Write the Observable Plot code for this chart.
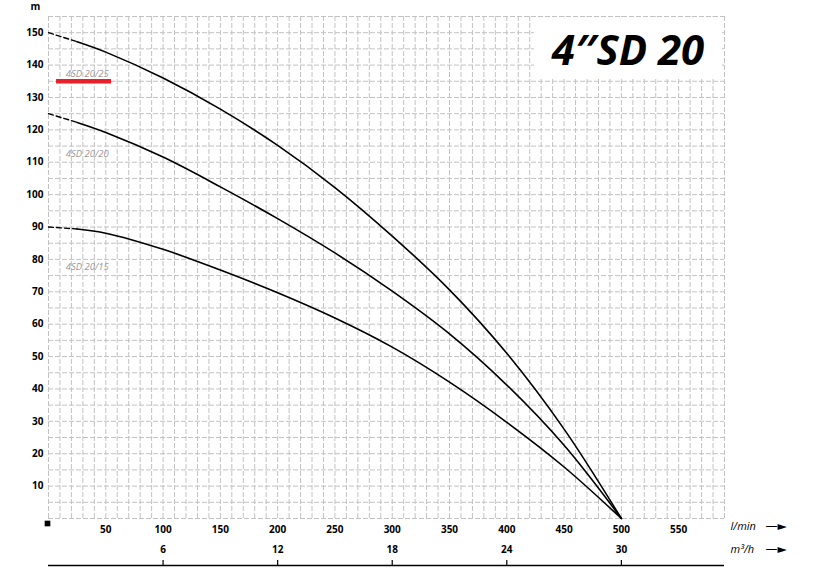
<!DOCTYPE html>
<html>
<head>
<meta charset="utf-8">
<script src="https://cdn.jsdelivr.net/npm/d3@7"></script>
<script src="https://cdn.jsdelivr.net/npm/@observablehq/plot@0.6"></script>
<style>
  html, body { margin: 0; padding: 0; background: #fff; }
  #wrap { position: relative; width: 815px; height: 570px; overflow: hidden; }
  #wrap svg { display: block; }
  #title {
    position: absolute; left: 534px; top: 17px; width: 188px; height: 62px;
    background: #fff; font-family: "Open Sans", sans-serif; font-weight: 700; font-style: italic;
    font-size: 42px; line-height: 64px; text-align: center; color: #000; letter-spacing: 0px;
  }
</style>
</head>
<body>
<div id="wrap"><div id="title">4″SD 20</div></div>
<script>
// Flow (l/min) sample points
const flow = [0, 25, 50, 100, 150, 200, 250, 300, 350, 400, 450, 500];
// Head (m) for each model
const head25 = [150, 147.2, 144, 136, 126.4, 115.2, 102.2, 87.2, 70.6, 51, 27.6, 0];
const head20 = [125, 122.3, 119.2, 111.6, 102.4, 92.6, 82, 70.2, 57, 41.2, 22.6, 0];
const head15 = [90, 89.4, 88.1, 83.1, 76.7, 69.7, 61.9, 52.9, 42.1, 29.7, 15.9, 0];
const models = ["4SD 20/25", "4SD 20/20", "4SD 20/15"];
const dashedUntil = 25; // l/min: extrapolated (dashed) part of each curve

// Axis ticks
const yTicks = [10, 20, 30, 40, 50, 60, 70, 80, 90, 100, 110, 120, 130, 140, 150];
const xTicks = [50, 100, 150, 200, 250, 300, 350, 400, 450, 500, 550];
const m3hTicks = [6, 12, 18, 24, 30];
const gridXValues = d3.range(0, 591, 10);
const gridYValues = d3.range(0, 156, 5);

// Curve labels (data coordinates)
const labelQ = [15, 15, 15];
const labelH = [137.4, 112.6, 77.6];
const highlight = [{model: "4SD 20/25", q1: 7, q2: 55, h: 135}];
const origin = [{q: 0, h: 0}];

const heads = [head25, head20, head15];
const rows = [];
models.forEach((m, i) => flow.forEach((q, j) => rows.push({model: m, q, h: heads[i][j]})));
const dashedRows = rows.filter(d => d.q <= dashedUntil);
const solidRows = rows.filter(d => d.q >= dashedUntil);
const labels = models.map((m, i) => ({model: m, q: labelQ[i], h: labelH[i]}));
const m3hRows = m3hTicks.map(v => ({v, q: v * 1000 / 60}));

const font = "'Open Sans', sans-serif";
const chart = Plot.plot({
  width: 815,
  height: 570,
  marginLeft: 48,
  marginRight: 91,
  marginTop: 16,
  marginBottom: 52,
  style: {fontFamily: font, background: "#fff", overflow: "visible"},
  x: {domain: [0, 590]},
  y: {domain: [0, 155]},
  marks: [
    Plot.gridX(gridXValues, {stroke: "#c2c2c2", strokeOpacity: 1, strokeWidth: 1, strokeDasharray: "5,2"}),
    Plot.gridY(gridYValues, {stroke: "#c2c2c2", strokeOpacity: 1, strokeWidth: 1, strokeDasharray: "5,2"}),
    Plot.axisY({ticks: yTicks, tickSize: 0, tickPadding: 5, label: null, fontWeight: "bold", fontSize: 10, fill: "#000"}),
    Plot.axisX({ticks: xTicks, tickSize: 0, tickPadding: 7, label: null, fontWeight: "bold", fontSize: 10, fill: "#000"}),
    Plot.text(["m"], {frameAnchor: "top-left", textAnchor: "middle", lineAnchor: "middle", dx: -13, dy: -10, fontWeight: "bold", fontSize: 10, fill: "#000"}),
    // second (m3/h) axis
    Plot.ruleY([0], {dy: 47, stroke: "#000", strokeWidth: 1.5}),
    Plot.tickX(m3hRows, {x: "q", stroke: "#000", strokeWidth: 1.2, insetTop: 497, dy: 47}),
    Plot.text(m3hRows, {x: "q", text: "v", frameAnchor: "bottom", dy: 34, fontWeight: "bold", fontSize: 10, fill: "#000"}),
    // unit labels
    Plot.text(["l/min"], {frameAnchor: "bottom-right", textAnchor: "start", dx: 6, dy: 11, fontStyle: "italic", fontSize: 11, fill: "#000"}),
    Plot.text(["m³/h"], {frameAnchor: "bottom-right", textAnchor: "start", dx: 6, dy: 34, fontStyle: "italic", fontSize: 11, fill: "#000"}),
    Plot.text(["—►"], {frameAnchor: "bottom-right", textAnchor: "start", dx: 41, dy: 11, fontSize: 12, fill: "#000", fontFamily: "DejaVu Sans"}),
    Plot.text(["—►"], {frameAnchor: "bottom-right", textAnchor: "start", dx: 41, dy: 34, fontSize: 12, fill: "#000", fontFamily: "DejaVu Sans"}),
    // origin marker
    Plot.dot(origin, {x: "q", y: "h", symbol: "square", r: 3.2, fill: "#000", dx: -1, dy: 5}),
    // curves
    Plot.line(dashedRows, {x: "q", y: "h", z: "model", stroke: "#000", strokeWidth: 1.4, strokeDasharray: "5,3"}),
    Plot.line(solidRows, {x: "q", y: "h", z: "model", stroke: "#000", strokeWidth: 1.6, curve: "catmull-rom"}),
    // labels
    Plot.ruleY(highlight, {x1: "q1", x2: "q2", y: "h", stroke: "#e8202a", strokeWidth: 4.5}),
    Plot.text(labels, {x: "q", y: "h", text: "model", textAnchor: "start", fontStyle: "italic", fontSize: 9.5, fill: "#999"})
  ]
});
document.getElementById("wrap").prepend(chart);
</script>
</body>
</html>
